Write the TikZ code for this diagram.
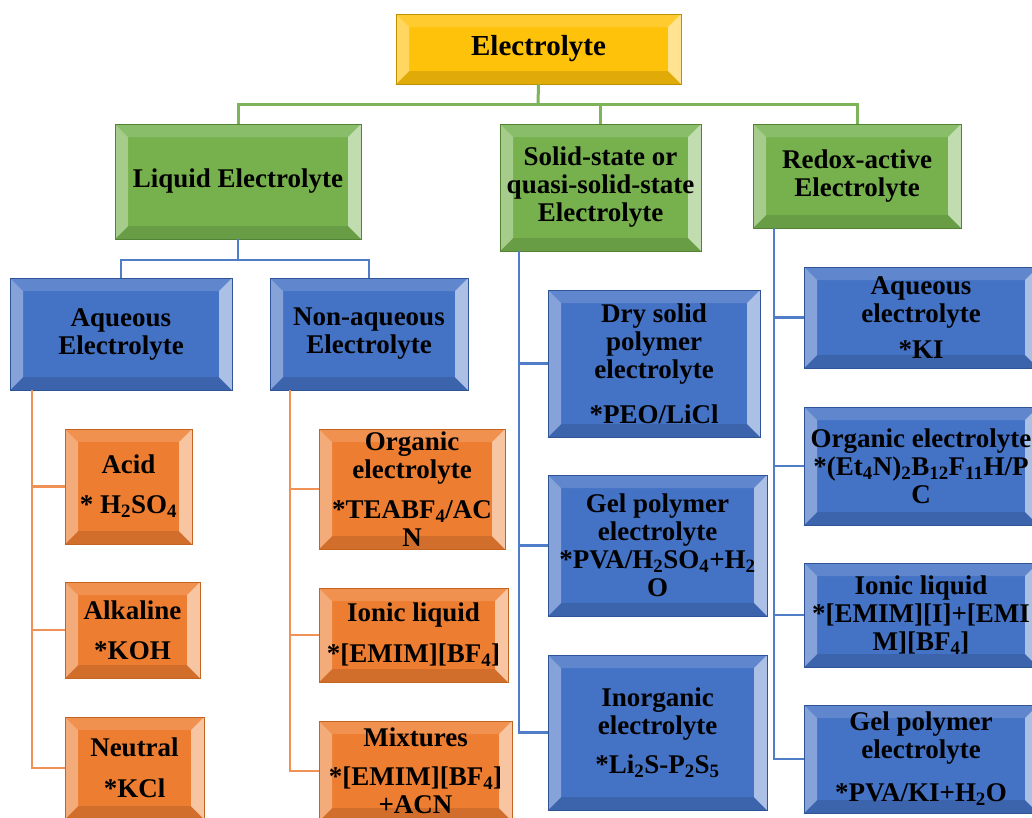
\documentclass[tikz,border=0pt]{standalone}
\usepackage{fontspec}
\setmainfont{Liberation Serif}
\definecolor{Y}{RGB}{255,194,10}
\definecolor{YD}{RGB}{190,145,0}
\definecolor{G}{RGB}{118,177,78}
\definecolor{GD}{RGB}{84,130,53}
\definecolor{B}{RGB}{68,114,196}
\definecolor{BD}{RGB}{47,85,151}
\definecolor{O}{RGB}{237,125,49}
\definecolor{OD}{RGB}{197,100,30}
\definecolor{GL}{RGB}{125,180,90}
\definecolor{BL}{RGB}{80,125,200}
\definecolor{OL}{RGB}{240,145,85}
\newcommand\sbs[1]{\textsubscript{#1}}
\tikzset{
  bevel/.style={draw=#1D, line width=0.7pt, fill=#1, inner sep=0pt, outer sep=0pt,
    align=center, text=black, font=\bfseries\fontsize{27}{28}\selectfont,
    path picture={
      \fill[#1!85!white] (path picture bounding box.north west) -- (path picture bounding box.north east)
        -- ([shift={(-13pt,-13pt)}]path picture bounding box.north east) -- ([shift={(13pt,-13pt)}]path picture bounding box.north west) -- cycle;
      \fill[#1!88!black] (path picture bounding box.south west) -- (path picture bounding box.south east)
        -- ([shift={(-13pt,13pt)}]path picture bounding box.south east) -- ([shift={(13pt,13pt)}]path picture bounding box.south west) -- cycle;
      \fill[#1!65!white] (path picture bounding box.north west) -- (path picture bounding box.south west)
        -- ([shift={(13pt,13pt)}]path picture bounding box.south west) -- ([shift={(13pt,-13pt)}]path picture bounding box.north west) -- cycle;
      \fill[#1!45!white] (path picture bounding box.north east) -- (path picture bounding box.south east)
        -- ([shift={(-13pt,13pt)}]path picture bounding box.south east) -- ([shift={(-13pt,-13pt)}]path picture bounding box.north east) -- cycle;
    }},
  gline/.style={draw=GL, line width=3pt},
  bline/.style={draw=BL, line width=2.5pt},
  oline/.style={draw=OL, line width=2.5pt},
}
\newcommand\bx[7]{\node[bevel=#6, minimum width={#4-#2}, minimum height={#5-#3}] (#1) at ({(#2+#4)/2},{(#3+#5)/2}) {#7};}
\begin{document}
\begin{tikzpicture}[x=1pt,y=-1pt]
\path[use as bounding box] (0,0) rectangle (1032,817);
\clip (0,0) rectangle (1032,817);
\fill[white] (0,0) rectangle (1032,817);
% boxes
\bx{top}{396}{14}{681}{84}{Y}{\fontsize{29}{30}\selectfont Electrolyte}
\bx{liquid}{115}{124}{361}{239}{G}{Liquid Electrolyte}
\bx{solid}{500}{124}{701}{251}{G}{Solid-state or\\quasi-solid-state\\Electrolyte}
\bx{redox}{753}{124}{961}{228}{G}{Redox-active\\Electrolyte}
\bx{aq}{10}{278}{232}{390}{B}{Aqueous\\Electrolyte}
\bx{naq}{270}{278}{468}{390}{B}{Non-aqueous\\Electrolyte}
\bx{acid}{65}{429}{192}{544}{O}{Acid\\[12pt]* H\sbs{2}SO\sbs{4}}
\bx{alk}{65}{582}{200}{678}{O}{Alkaline\\[12pt]*KOH}
\bx{neu}{65}{717}{204}{819}{O}{Neutral\\[13pt]*KCl}
\bx{org}{319}{429}{505}{549}{O}{Organic\\electrolyte\\[12pt]*TEABF\sbs{4}/AC\\N}
\bx{ion}{319}{588}{508}{682}{O}{Ionic liquid\\[13pt]*[EMIM][BF\sbs{4}]}
\bx{mix}{319}{721}{512}{821}{O}{Mixtures\\[11pt]*[EMIM][BF\sbs{4}]\\+ACN}
\bx{dry}{548}{290}{760}{437}{B}{Dry solid\\polymer\\electrolyte\\[17pt]*PEO/LiCl}
\bx{gel}{548}{475}{767}{616}{B}{Gel polymer\\electrolyte\\*PVA/H\sbs{2}SO\sbs{4}+H\sbs{2}\\O}
\bx{inorg}{548}{655}{767}{810}{B}{Inorganic\\electrolyte\\[11pt]*Li\sbs{2}S-P\sbs{2}S\sbs{5}}
\bx{raq}{804}{267}{1038}{368}{B}{Aqueous\\electrolyte\\[8pt]*KI}
\bx{rorg}{804}{407}{1038}{525}{B}{Organic electrolyte\\*(Et\sbs{4}N)\sbs{2}B\sbs{12}F\sbs{11}H/P\\C}
\bx{rion}{804}{563}{1038}{667}{B}{Ionic liquid\\*[EMIM][I]+[EMI\\M][BF\sbs{4}]}
\bx{rgel}{804}{705}{1038}{813}{B}{Gel polymer\\electrolyte\\[15pt]*PVA/KI+H\sbs{2}O}
% coordinates
\coordinate (tb) at (538,104);
\coordinate (lb) at (238,260);
\coordinate (aqt) at (32,390);
\coordinate (naqt) at (290,390);
\coordinate (st) at (519,251);
\coordinate (rt) at (774,228);
% connectors
\draw[gline] (top.south) -- (tb);
\draw[gline] (tb) -| (liquid.north);
\draw[gline] (tb) -| (solid.north);
\draw[gline] (tb) -| (redox.north);
\draw[bline] (liquid.south) -- (lb);
\draw[bline] (lb) -| (aq.north);
\draw[bline] (lb) -| (naq.north);
\draw[oline] (aqt) |- (acid.west);
\draw[oline] (aqt) |- (alk.west);
\draw[oline] (aqt) |- (neu.west);
\draw[oline] (naqt) |- (org.west);
\draw[oline] (naqt) |- (ion.west);
\draw[oline] (naqt) |- (mix.west);
\draw[bline] (st) |- (dry.west);
\draw[bline] (st) |- (gel.west);
\draw[bline] (st) |- (inorg.west);
\draw[bline] (rt) |- (raq.west);
\draw[bline] (rt) |- (rorg.west);
\draw[bline] (rt) |- (rion.west);
\draw[bline] (rt) |- (rgel.west);
\end{tikzpicture}
\end{document}
